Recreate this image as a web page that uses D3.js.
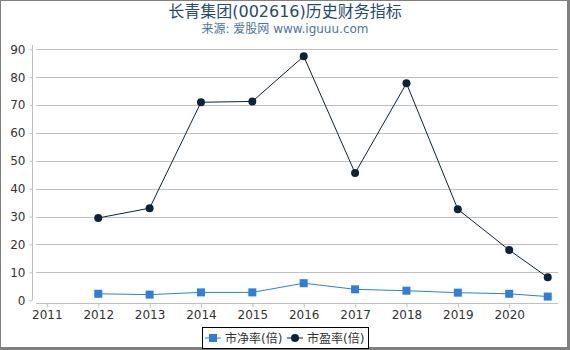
<!DOCTYPE html>
<html>
<head>
<meta charset="utf-8">
<script src="https://cdn.jsdelivr.net/npm/d3@7"></script>
<style>
  body { margin: 0; }
  text { font-family: "DejaVu Sans", "Noto Sans CJK SC", sans-serif; }
</style>
</head>
<body>
<div id="chart"></div>
<script>
// 年份（最后一个点是 2020 年三季度）
const years = [2012, 2013, 2014, 2015, 2016, 2017, 2018, 2019, 2020, 2020.75];
const pbValues = [2.3, 2.0, 2.8, 2.8, 6.1, 3.9, 3.4, 2.7, 2.3, 1.3];
const peValues = [29.5, 33.0, 71.0, 71.3, 87.5, 45.6, 77.8, 32.6, 18.0, 8.2];
const xTicks = [2011, 2012, 2013, 2014, 2015, 2016, 2017, 2018, 2019, 2020];
const yTicks = [0, 10, 20, 30, 40, 50, 60, 70, 80, 90];
const seriesNames = ["市净率(倍)", "市盈率(倍)"];

const width = 570;
const height = 350;

const svg = d3
  .select("#chart")
  .append("svg")
  .attr("width", width)
  .attr("height", height);

// 外框
svg.append("rect").attr("width", width).attr("height", height).attr("fill", "#808080");
svg.append("rect").attr("x", 1).attr("y", 1).attr("width", 566).attr("height", 346).attr("fill", "#fff");

const x = d3.scaleLinear().domain([2010.73, 2020.95]).range([33, 558]);
const y = d3.scaleLinear().domain([0, 90]).range([300.2, 49.3]);

// 标题
svg.append("text")
  .attr("x", 285).attr("y", 17)
  .attr("text-anchor", "middle")
  .attr("fill", "#274b6d")
  .style("font-size", "16px")
  .text("长青集团(002616)历史财务指标");

svg.append("text")
  .attr("x", 285).attr("y", 33)
  .attr("text-anchor", "middle")
  .attr("fill", "#4d759e")
  .style("font-size", "12px")
  .text("来源: 爱股网 www.iguuu.com");

// 网格线
svg.append("g")
  .selectAll("line")
  .data(yTicks.slice(1))
  .enter()
  .append("line")
  .attr("x1", 36).attr("x2", 558)
  .attr("y1", (d) => Math.round(y(d)) + 0.5)
  .attr("y2", (d) => Math.round(y(d)) + 0.5)
  .attr("stroke", "#c0c0c0")
  .attr("stroke-width", 1);

// y 轴
const yAxis = svg.append("g")
  .attr("transform", "translate(32.5,0)")
  .call(d3.axisLeft(y).tickValues(yTicks).tickSize(3).tickPadding(4));
yAxis.select(".domain").attr("d", "M0,45V300").attr("stroke", "#c0c0c0");
yAxis.selectAll(".tick line").attr("stroke", "#c0c0c0");
yAxis.selectAll("text")
  .attr("fill", "#333")
  .style("font-size", "12px")
  .style("font-family", "DejaVu Sans");

// x 轴
const xAxis = svg.append("g")
  .attr("transform", "translate(0,303.5)")
  .call(d3.axisBottom(x).tickValues(xTicks).tickFormat(d3.format("d")).tickSize(4).tickPadding(3));
xAxis.select(".domain").attr("d", "M36,0H558").attr("stroke", "#c0c0c0");
xAxis.selectAll(".tick line").attr("stroke", "#c0c0c0");
xAxis.selectAll("text")
  .attr("fill", "#333")
  .style("font-size", "12px")
  .style("font-family", "DejaVu Sans");

const line = d3.line().x((d) => x(d[0])).y((d) => y(d[1]));

const pbData = years.map((yr, i) => [yr, pbValues[i]]);
const peData = years.map((yr, i) => [yr, peValues[i]]);

// 市净率
svg.append("path")
  .datum(pbData)
  .attr("d", line)
  .attr("fill", "none")
  .attr("stroke", "#2f7ed8")
  .attr("stroke-width", 1);
svg.append("g")
  .selectAll("rect")
  .data(pbData)
  .enter()
  .append("rect")
  .attr("x", (d) => x(d[0]) - 4)
  .attr("y", (d) => y(d[1]) - 4)
  .attr("width", 8)
  .attr("height", 8)
  .attr("fill", "#2f7ed8");

// 市盈率
svg.append("path")
  .datum(peData)
  .attr("d", line)
  .attr("fill", "none")
  .attr("stroke", "#0d233a")
  .attr("stroke-width", 1);
svg.append("g")
  .selectAll("circle")
  .data(peData)
  .enter()
  .append("circle")
  .attr("cx", (d) => x(d[0]))
  .attr("cy", (d) => y(d[1]))
  .attr("r", 4)
  .attr("fill", "#0d233a");

// 图例
const legend = svg.append("g");
legend.append("rect")
  .attr("x", 202.5).attr("y", 327.5)
  .attr("width", 166).attr("height", 21)
  .attr("fill", "#fff")
  .attr("stroke", "#000")
  .attr("stroke-width", 1);

const legendColors = ["#2f7ed8", "#0d233a"];
const legendX = [205, 287];
seriesNames.forEach((name, i) => {
  const lx = legendX[i];
  legend.append("line")
    .attr("x1", lx).attr("x2", lx + 16)
    .attr("y1", 338).attr("y2", 338)
    .attr("stroke", legendColors[i])
    .attr("stroke-width", 1);
  if (i === 0) {
    legend.append("rect")
      .attr("x", lx + 4).attr("y", 334)
      .attr("width", 8).attr("height", 8)
      .attr("fill", legendColors[i]);
  } else {
    legend.append("circle")
      .attr("cx", lx + 8).attr("cy", 338)
      .attr("r", 4)
      .attr("fill", legendColors[i]);
  }
  legend.append("text")
    .attr("x", lx + 20).attr("y", 342.5)
    .attr("fill", "#333")
    .style("font-size", "12px")
    .text(name);
});
</script>
</body>
</html>
